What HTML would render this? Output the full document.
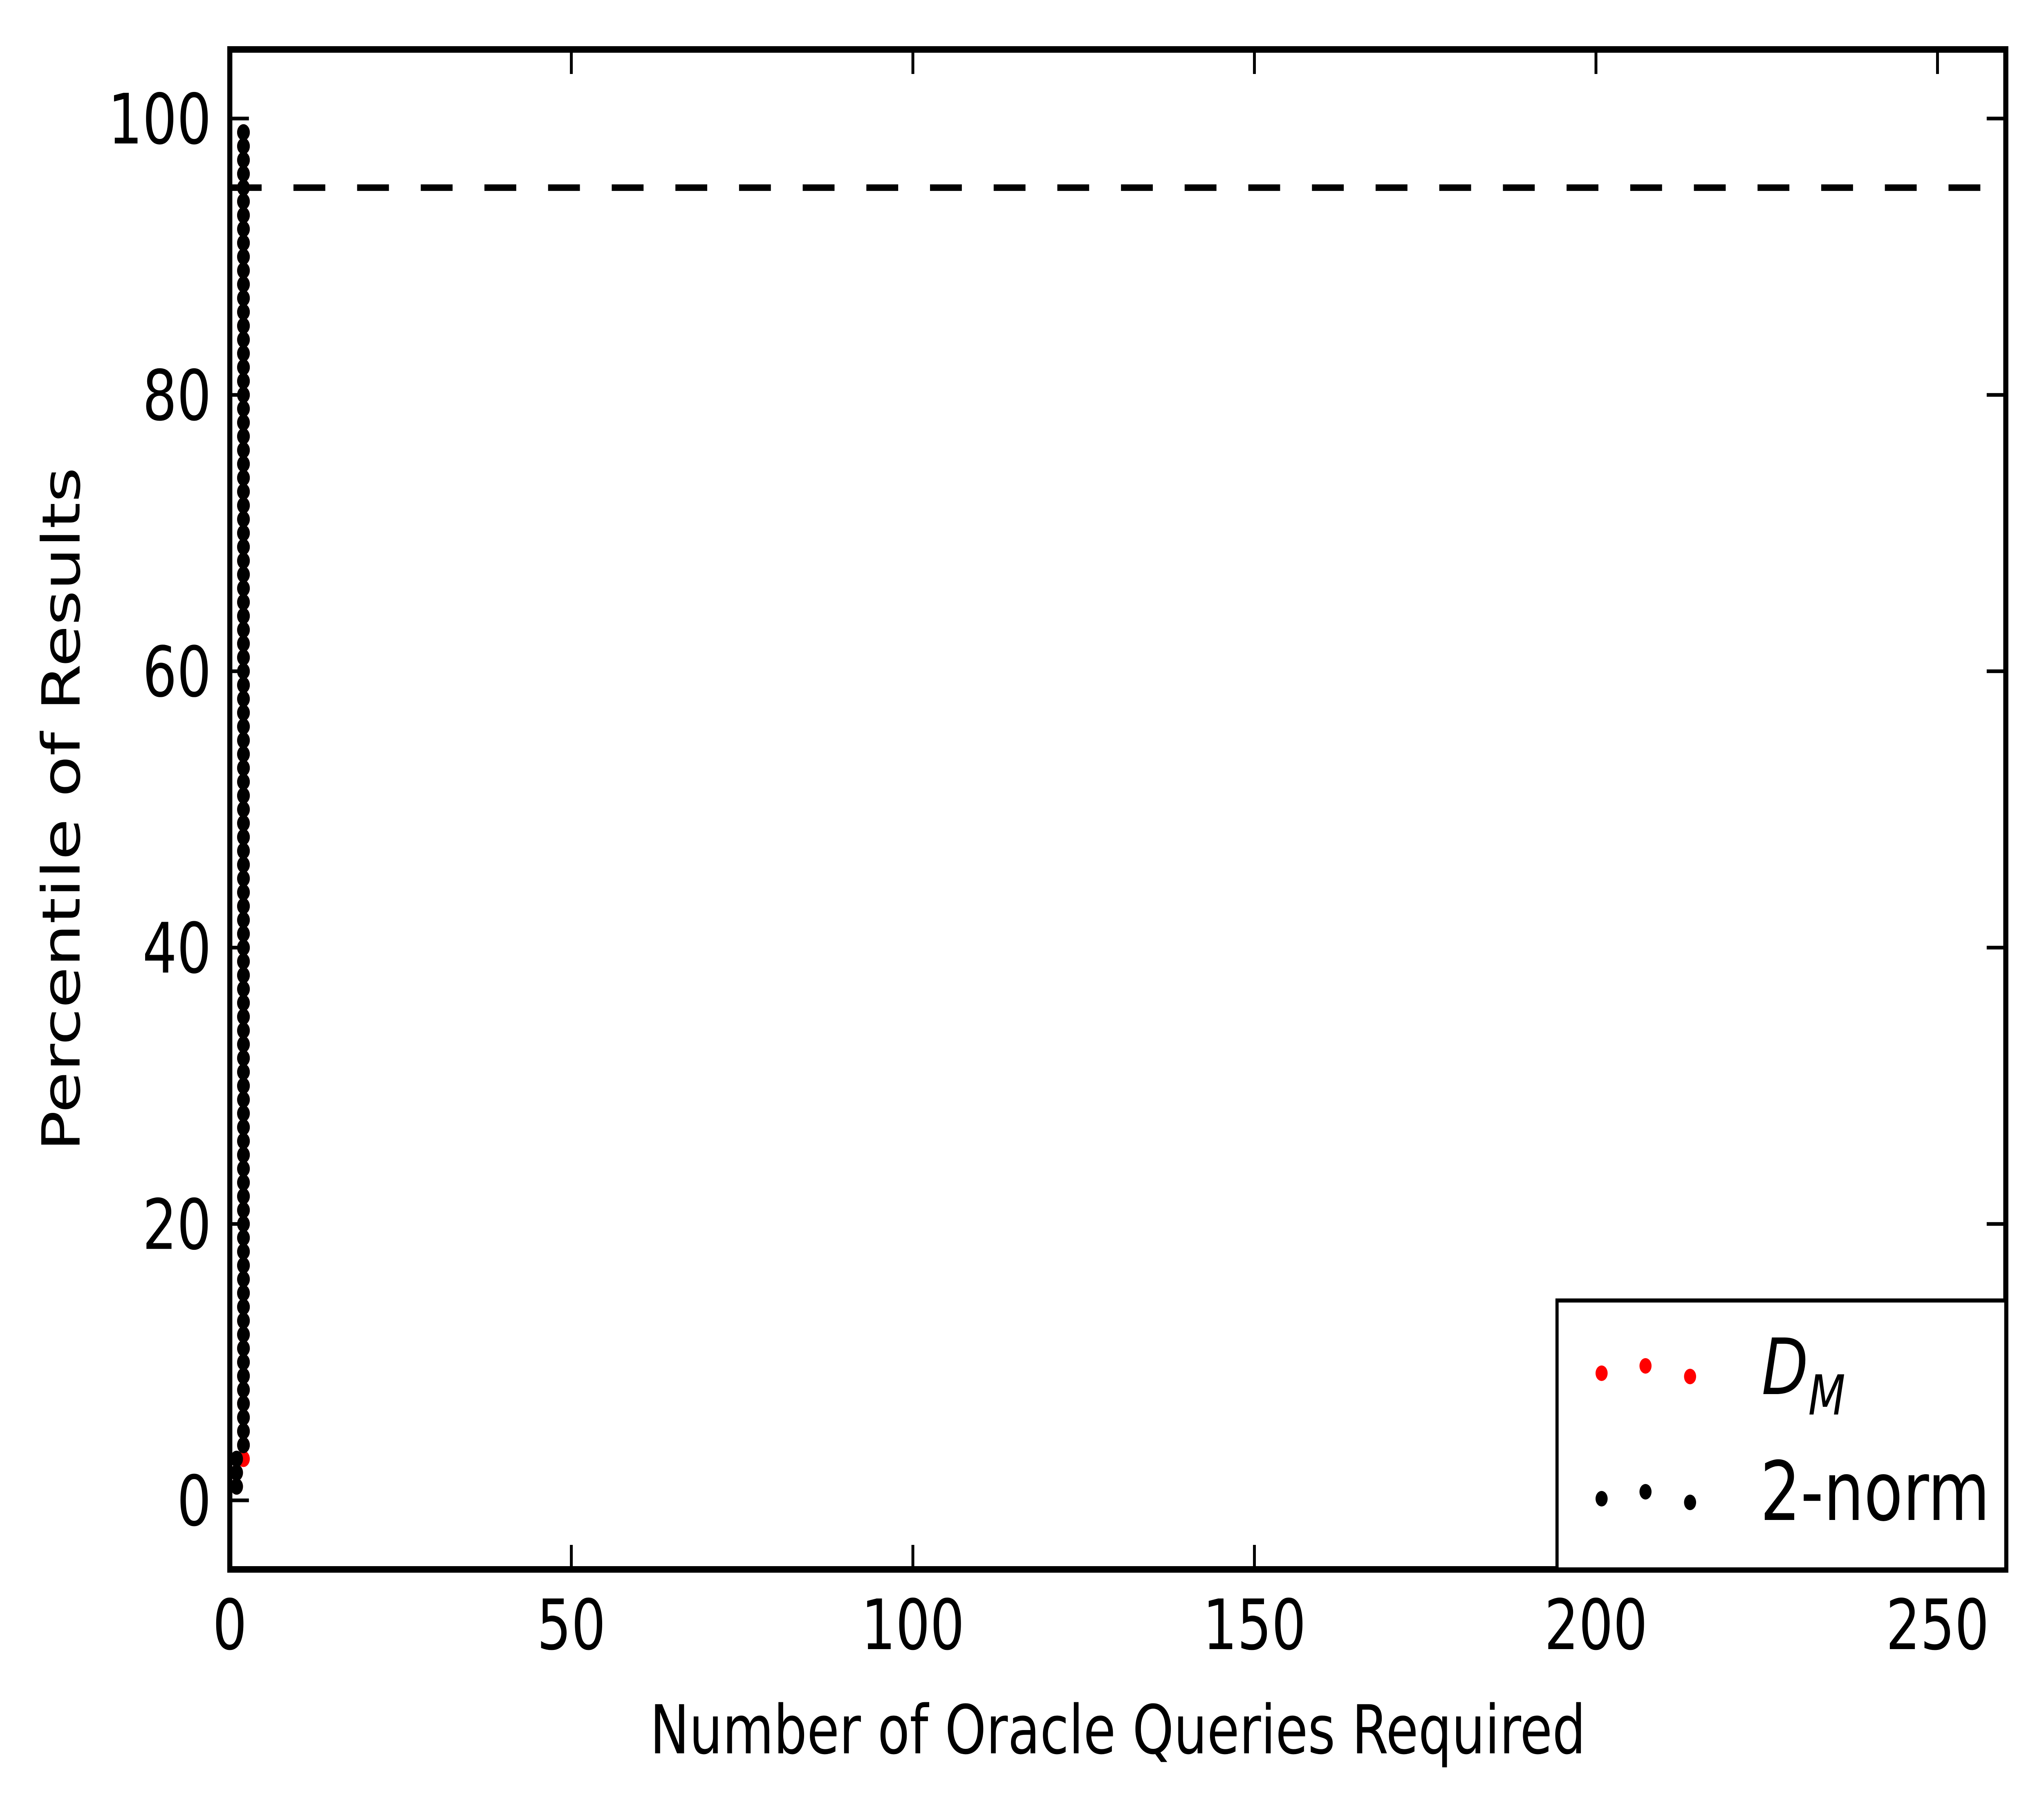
<!DOCTYPE html>
<html>
<head>
<meta charset="utf-8">
<style>
  html,body{margin:0;padding:0;background:#fff;overflow:hidden;width:100%;height:100%;}
  svg{display:block;width:100vw;height:100vh;}
  text{font-family:"DejaVu Sans","Liberation Sans",sans-serif;}
</style>
</head>
<body>
<svg id="chart" xmlns="http://www.w3.org/2000/svg" viewBox="0 0 6422 4436" preserveAspectRatio="none">
  <rect x="0" y="0" width="6422" height="4436" fill="#fff"/>
  <g id="marks"></g>
  <g id="axes"></g>
  <g id="legend">
    <rect x="4892" y="3182" width="1410" height="658" fill="#fff" stroke="#000" stroke-width="10"/>
    <g>
      <circle cx="5032" cy="3360" r="19" fill="#ff0000"/>
      <circle cx="5170" cy="3342" r="19" fill="#ff0000"/>
      <circle cx="5310" cy="3368" r="19" fill="#ff0000"/>
      <text x="5535" y="3411" font-family="'Liberation Serif',serif" font-style="italic" font-size="190">D<tspan font-size="135" dy="50">M</tspan></text>
    </g>
    <g>
      <circle cx="5032" cy="3667" r="19" fill="#000"/>
      <circle cx="5170" cy="3650" r="19" fill="#000"/>
      <circle cx="5310" cy="3676" r="19" fill="#000"/>
      <text x="5530" y="3719" font-size="200">2-norm</text>
    </g>
  </g>
</svg>
<script>
// ---- data ----
const xTicks = [0, 50, 100, 150, 200, 250];
const yTicks = [0, 20, 40, 60, 80, 100];
const thresholdY = 95;
// D_M series (red): x = queries, y = percentile
const dmX = [1, 1, 2, 2, 2, 2, 2, 2, 2, 2, 2, 2, 2, 2, 2, 2, 2, 2, 2, 2, 2, 2, 2, 2, 2, 2, 2, 2, 2, 2, 2, 2, 2, 2, 2, 2, 2, 2, 2, 2, 2, 2, 2, 2, 2, 2, 2, 2, 2, 2, 2, 2, 2, 2, 2, 2, 2, 2, 2, 2, 2, 2, 2, 2, 2, 2, 2, 2, 2, 2, 2, 2, 2, 2, 2, 2, 2, 2, 2, 2, 2, 2, 2, 2, 2, 2, 2, 2, 2, 2, 2, 2, 2, 2, 2, 2, 2, 2, 2];
const dmY = [1, 2, 3, 4, 5, 6, 7, 8, 9, 10, 11, 12, 13, 14, 15, 16, 17, 18, 19, 20, 21, 22, 23, 24, 25, 26, 27, 28, 29, 30, 31, 32, 33, 34, 35, 36, 37, 38, 39, 40, 41, 42, 43, 44, 45, 46, 47, 48, 49, 50, 51, 52, 53, 54, 55, 56, 57, 58, 59, 60, 61, 62, 63, 64, 65, 66, 67, 68, 69, 70, 71, 72, 73, 74, 75, 76, 77, 78, 79, 80, 81, 82, 83, 84, 85, 86, 87, 88, 89, 90, 91, 92, 93, 94, 95, 96, 97, 98, 99];
// 2-norm series (black)
const normX = [1, 1, 1, 2, 2, 2, 2, 2, 2, 2, 2, 2, 2, 2, 2, 2, 2, 2, 2, 2, 2, 2, 2, 2, 2, 2, 2, 2, 2, 2, 2, 2, 2, 2, 2, 2, 2, 2, 2, 2, 2, 2, 2, 2, 2, 2, 2, 2, 2, 2, 2, 2, 2, 2, 2, 2, 2, 2, 2, 2, 2, 2, 2, 2, 2, 2, 2, 2, 2, 2, 2, 2, 2, 2, 2, 2, 2, 2, 2, 2, 2, 2, 2, 2, 2, 2, 2, 2, 2, 2, 2, 2, 2, 2, 2, 2, 2, 2, 2];
const normY = [1, 2, 3, 4, 5, 6, 7, 8, 9, 10, 11, 12, 13, 14, 15, 16, 17, 18, 19, 20, 21, 22, 23, 24, 25, 26, 27, 28, 29, 30, 31, 32, 33, 34, 35, 36, 37, 38, 39, 40, 41, 42, 43, 44, 45, 46, 47, 48, 49, 50, 51, 52, 53, 54, 55, 56, 57, 58, 59, 60, 61, 62, 63, 64, 65, 66, 67, 68, 69, 70, 71, 72, 73, 74, 75, 76, 77, 78, 79, 80, 81, 82, 83, 84, 85, 86, 87, 88, 89, 90, 91, 92, 93, 94, 95, 96, 97, 98, 99];

// ---- layout ----
const L = 722, R = 6302, T = 121, B = 3840;
const xMin = 0, xMax = 260, yMin = -5, yMax = 105;
function sx(v){ return L + (v - xMin) / (xMax - xMin) * (R - L); }
function sy(v){ return B - (v - yMin) / (yMax - yMin) * (B - T); }
const NS = 'http://www.w3.org/2000/svg';
function mk(tag, attrs, parent){
  const e = document.createElementNS(NS, tag);
  for (const k in attrs) e.setAttribute(k, attrs[k]);
  parent.appendChild(e);
  return e;
}
const marks = document.getElementById('marks');
const axes = document.getElementById('axes');

// threshold dashed line
const th = mk('line', {x1: sx(xMin), x2: sx(xMax), y1: sy(thresholdY), y2: sy(thresholdY), stroke: '#000', 'stroke-width': 16, 'stroke-dasharray': '100 100'}, marks);



// D_M points
for (let i = 0; i < dmX.length; i++){
  const c = mk('circle', {cx: sx(dmX[i]), cy: sy(dmY[i]), r: 20, fill: '#ff0000'}, marks);
  
  
}
// 2-norm points
for (let i = 0; i < normX.length; i++){
  const c = mk('circle', {cx: sx(normX[i]), cy: sy(normY[i]), r: 20, fill: '#000'}, marks);
  
  
}

// ticks
const TL = 60;
xTicks.forEach(v => {
  const x = sx(v);
  const t1 = mk('line', {x1: x, x2: x, y1: B, y2: B - TL, stroke: '#000', 'stroke-width': 9}, axes);
  
  
  const t2 = mk('line', {x1: x, x2: x, y1: T, y2: T + TL, stroke: '#000', 'stroke-width': 9}, axes);
  
  
  const lb = mk('text', {x: x, y: 4035, 'text-anchor': 'middle', 'font-size': 170}, axes);
  lb.textContent = String(v);
  
  
});
yTicks.forEach(v => {
  const y = sy(v);
  const t1 = mk('line', {x1: L, x2: L + TL, y1: y, y2: y, stroke: '#000', 'stroke-width': 9}, axes);
  
  
  const t2 = mk('line', {x1: R, x2: R - TL, y1: y, y2: y, stroke: '#000', 'stroke-width': 9}, axes);
  
  
  const lb = mk('text', {x: 664, y: y + 61, 'text-anchor': 'end', 'font-size': 170}, axes);
  lb.textContent = String(v);
  
  
});

// frame
const fr = mk('rect', {x: L, y: T, width: R - L, height: B - T, fill: 'none', stroke: '#000', 'stroke-width': 16}, axes);



// axis titles
const xt = mk('text', {x: (L + R) / 2, y: 4290, 'text-anchor': 'middle', 'font-size': 165}, axes);
xt.textContent = 'Number of Oracle Queries Required';


const yt = mk('text', {x: 0, y: 0, 'text-anchor': 'middle', 'font-size': 165, transform: 'translate(250 1980) rotate(-90)'}, axes);
yt.textContent = 'Percentile of Results';



// legend on top
document.getElementById('chart').appendChild(document.getElementById('legend'));
</script>
</body>
</html>
